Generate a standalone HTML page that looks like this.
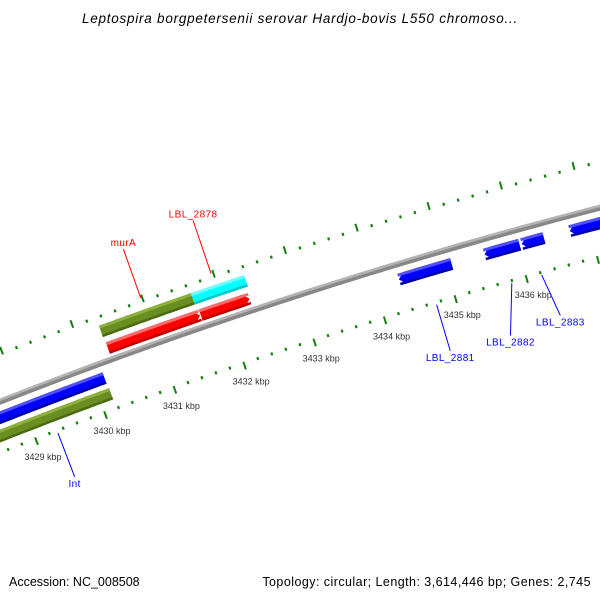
<!DOCTYPE html>
<html><head><meta charset="utf-8"><style>
html,body{margin:0;padding:0;background:#fff;}
svg{display:block;font-family:"Liberation Sans",sans-serif;}
</style></head><body>
<svg id="map" width="600" height="600" viewBox="0 0 600 600" xmlns="http://www.w3.org/2000/svg">
<rect width="600" height="600" fill="#fff"/>
<text x="300" y="23" text-anchor="middle" font-size="13.5" font-style="italic" letter-spacing="0.75" fill="#000">Leptospira borgpetersenii serovar Hardjo-bovis L550 chromoso...</text>
<g id="ticks"></g>
<g id="backbone"></g>
<g id="feats"></g>
<g id="labels"></g>
<text x="9" y="586" font-size="12.5" fill="#000">Accession: NC_008508</text>
<text x="591" y="586" text-anchor="end" font-size="12.5" letter-spacing="0.45" fill="#000">Topology: circular; Length: 3,614,446 bp; Genes: 2,745</text>
</svg>
<script>
const featStart = [3428.0, 3428.0, 3430.33, 3431.63, 3430.34, 3431.66, 3434.34, 3435.54, 3436.06, 3436.73];
const featEnd   = [3430.16, 3430.17, 3431.68, 3432.38, 3431.65, 3432.35, 3435.08, 3436.03, 3436.37, 3438.5];
const featStrand= [-1, 0, 0, 0, 1, 1, -1, -1, -1, -1];
const featTrack = ['inBlue','inGreen','outGreen','outCyan','outRed','outRed','inBlue','inBlue','inBlue','inBlue'];
const featNames = ['int-cds','int-gene','mura-gene','lbl-2878-gene','mura-cds','lbl-2878-cds','lbl-2881-cds','lbl-2882-cds','lbl-2883-cds','next-cds'];
const tickLabelKbp = [3429, 3430, 3431, 3432, 3433, 3434, 3435, 3436];
const geneLabels = ['murA','LBL_2878','LBL_2881','LBL_2882','LBL_2883','Int'];
const geneLabelKbp = [3430.98, 3431.97, 3434.73, 3435.79, 3436.21, 3429.31];
const geneLabelSide = [1, 1, -1, -1, -1, -1];
const leaderShift = [0, 0, 0, -0.21, 0.1, 0];
const leaderLen = [52, 56, 48, 50, 44, 47];

const NS='http://www.w3.org/2000/svg';
const C={x:1906,y:5272}, R=5230, PX=74.5;
const TH0=Math.atan2(297-5272,300-1906);
function P(k,off){const th=TH0+(k-3433)*PX/R;const rr=R+off;return [C.x+rr*Math.cos(th),C.y+rr*Math.sin(th)];}
function mk(tag,attrs,parent){const e=document.createElementNS(NS,tag);for(const a in attrs)e.setAttribute(a,attrs[a]);parent.appendChild(e);return e;}
function band(k1,k2,r1,r2,dir){
  const pts=[];const n=30;const h=6/PX;
  let a=k1,b=k2;
  if(dir===1)b=k2-h; if(dir===-1)a=k1+h;
  for(let i=0;i<=n;i++)pts.push(P(a+(b-a)*i/n,r2));
  if(dir===1)pts.push(P(k2,(r1+r2)/2));
  for(let i=n;i>=0;i--)pts.push(P(a+(b-a)*i/n,r1));
  if(dir===-1)pts.push(P(k1,(r1+r2)/2));
  return pts.map(p=>p[0].toFixed(1)+','+p[1].toFixed(1)).join(' ');
}
const tracks={outGreen:[24,36],outCyan:[24,36],outRed:[6,18],inBlue:[-21,-9],inGreen:[-38,-26]};
const cols={outGreen:['#6b8e23','#8db03c','#4d6a14'],outCyan:['#00ffff','#70ffff','#00c8c8'],outRed:['#ff0000','#ff6a6a','#c00000'],inBlue:['#0000ff','#5050ff','#0000a8'],inGreen:['#6b8e23','#8db03c','#4d6a14']};

const tg=document.getElementById('ticks');
for(let i=0;i<=55;i++){
  const k=3428+i*0.2;const major=(i%5===0);
  [[43,major?51:46],[-46,major?-54:-49]].forEach((rr)=>{
    const a=P(k,rr[0]),b=P(k,rr[1]);
    const t=mk('line',{x1:a[0],y1:a[1],x2:b[0],y2:b[1],stroke:'#13800f','stroke-width':major?2:2.2},tg);
    
    
  });
}
tickLabelKbp.forEach(k=>{
  const p=P(k,-50);
  const t=mk('text',{x:p[0]-12,y:p[1]+19,'font-size':9,fill:'#333'},tg);
  t.textContent=k+' kbp';
  
  
});
const bb=document.getElementById('backbone');
const b1=mk('polygon',{points:band(3427,3440,-3,3,0),fill:'#888'},bb);


const b2=mk('polygon',{points:band(3427,3440,0.5,3,0),fill:'#b4b4b4'},bb);


const fg=document.getElementById('feats');
featStart.forEach((s,i)=>{
  const tr=tracks[featTrack[i]],c=cols[featTrack[i]],d=featStrand[i];
  const g=mk('g',{},fg);
  
  
  mk('polygon',{points:band(s,featEnd[i],tr[0],tr[1],d),fill:c[0]},g);
  mk('polygon',{points:band(s,featEnd[i],tr[1]-3,tr[1],0),fill:c[1]},g);
  mk('polygon',{points:band(s,featEnd[i],tr[0],tr[0]+2.5,0),fill:c[2]},g);
});
const lg=document.getElementById('labels');
geneLabels.forEach((n,i)=>{
  const k=geneLabelKbp[i],side=geneLabelSide[i];
  const col=side===1?'#ff0000':'#0000ff';
  const r0=side===1?48:-50;
  const a=P(k,r0);
  const b=P(k+leaderShift[i],r0+side*leaderLen[i]);
  const l=mk('line',{x1:a[0],y1:a[1],x2:b[0],y2:b[1],stroke:col,'stroke-width':1},lg);
  
  
  const t=mk('text',{x:b[0],y:side===1?b[1]-3:b[1]+10,'text-anchor':'middle','font-size':10,'letter-spacing':0.4,fill:col},lg);
  t.textContent=n;
  
  
});
</script>
</body></html>
